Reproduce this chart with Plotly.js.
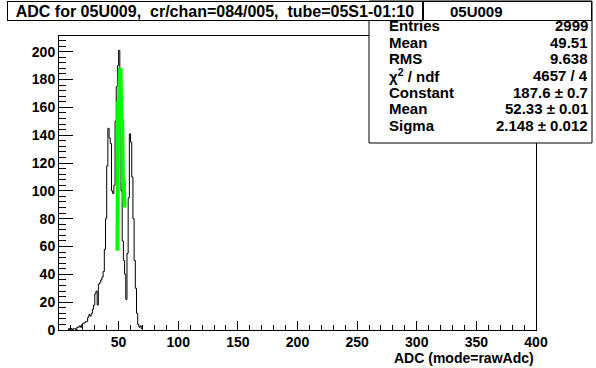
<!DOCTYPE html>
<html>
<head>
<meta charset="utf-8">
<script src="https://cdn.plot.ly/plotly-3.0.1.min.js"></script>
<style>html,body{margin:0;padding:0;background:#fff;}#chart{width:596px;height:368px;}</style>
</head>
<body>
<div id="chart"></div>
<script>
// ---- data ----
const binLowEdges = [8,9,10,11,12,13,14,15,16,17,18,19,20,21,22,23,24,25,26,27,28,29,30,31,32,33,34,35,36,37,38,39,40,41,42,43,44,45,46,47,48,49,50,51,52,53,54,55,56,57,58,59,60,61,62,63,64,65,66,67,68,69];
const binCounts   = [1,0,1,0,1,1,0,2,2,3,2,4,5,5,6,6,9,11,10,12,15,18,26,28,18,33,34,36,38,42,58,80,118,145,138,134,100,98,104,150,175,190,201,150,100,64,50,40,22,55,95,141,135,110,80,50,30,12,4,2,3,1];
const fitX = [49.0,49.0,49.6,49.6,50.3,50.3,51.0,51.0,51.6,51.6,52.3,52.3,53.0,53.0,53.6,53.6,54.3,54.3,55.0];
const fitY = [57,110,110,163,163,180,180,187,187,175,175,150,150,120,120,107,107,92,88];
const yTickVals = [0,20,40,60,80,100,120,140,160,180,200];
const xTickVals = [50,100,150,200,250,300,350,400];
const titleText = "ADC for 05U009,  cr/chan=084/005,  tube=05S1-01:10";
const xTitleText = "ADC (mode=rawAdc)";
const statsName = "05U009";
const statLabels = ["Entries","Mean","RMS","\u03c7<sup>2</sup> / ndf","Constant","Mean","Sigma"];
const statValues = ["2999","49.51","9.638","4657 / 4","187.6 \u00b1 0.7","52.33 \u00b1 0.01","2.148 \u00b1 0.012"];

// ---- build step outline ----
const hx = [binLowEdges[0]], hy = [0];
for (let i = 0; i < binLowEdges.length; i++) { hx.push(binLowEdges[i]); hy.push(binCounts[i]); }
const lastEdge = binLowEdges[binLowEdges.length-1] + 1;
hx.push(lastEdge); hy.push(binCounts[binCounts.length-1]);
hx.push(lastEdge); hy.push(0);

// pixel helpers (plot area 59..536 x 36..330)
const L = 59, R = 536, T = 36, B = 330, W = 596, H = 368;
const px = p => (p - L) / (R - L);
const py = p => (B - p) / (B - T);

const font = "Liberation Sans, Arial, Helvetica, sans-serif";
const NB = '\u00a0';

const traces = [
  {x: hx, y: hy, type: 'scatter', mode: 'lines', line: {shape: 'hv', color: '#000', width: 1}, hoverinfo: 'skip'},
  {x: fitX, y: fitY, type: 'scatter', mode: 'lines', line: {color: '#00ff00', width: 4}, hoverinfo: 'skip'}
];

const annotations = [];
const lineCenters = [25, 42.5, 59, 75.5, 92, 108.5, 125];
statLabels.forEach((t, i) => {
  annotations.push({xref:'paper', yref:'paper', x: px(387), y: py(lineCenters[i]), xanchor:'left', yanchor:'middle',
    text: '<b>'+t+'</b>', showarrow:false, font:{family:font, size:15, color:'#000'}});
  annotations.push({xref:'paper', yref:'paper', x: px(590), y: py(lineCenters[i]), xanchor:'right', yanchor:'middle',
    text: '<b>'+statValues[i]+'</b>', showarrow:false, font:{family:font, size:15, color:'#000'}});
});
// header cell with the histogram name (covers the top of the stats text)
annotations.push({xref:'paper', yref:'paper', x: px(423), y: py(1), xanchor:'left', yanchor:'top',
  text:'<b>'+statsName+'</b>'+NB.repeat(15), width:167, height:18, align:'center',
  bgcolor:'#fff', bordercolor:'#000', borderwidth:1, borderpad:0, showarrow:false,
  font:{family:font, size:15, color:'#000'}});
annotations.push({xref:'paper', yref:'paper', x: px(7), y: py(1), xanchor:'left', yanchor:'top',
  text:'<b>'+titleText+'</b>', width:414, height:18, bgcolor:'#fff', bordercolor:'#000', borderwidth:1, borderpad:0, showarrow:false,
  font:{family:font, size:16, color:'#000'}});
annotations.push({xref:'paper', yref:'paper', x: px(536), y: py(358), xanchor:'right', yanchor:'middle',
  text:'<b>'+xTitleText+'</b>', showarrow:false, font:{family:font, size:14, color:'#000'}});

const layout = {
  width: W, height: H,
  margin: {l: L, r: W - R, t: T, b: H - B, pad: 0},
  paper_bgcolor: '#fff', plot_bgcolor: '#fff',
  showlegend: false,
  xaxis: {range: [0, 400], showgrid: false, zeroline: false, showline: true, mirror: true, linecolor: '#000', linewidth: 1,
    ticks: 'inside', ticklen: 9, tickwidth: 1, tickcolor: '#000', tickmode: 'array', tickvals: xTickVals,
    ticktext: xTickVals.map(v => '<b>'+v+'</b>'), ticklabelstandoff: -1,
    tickfont: {family: font, size: 14, color: '#000'},
    minor: {dtick: 10, ticklen: 5, tickcolor: '#000', ticks: 'inside', showgrid: false}},
  yaxis: {range: [0, 211.3], showgrid: false, zeroline: false, showline: true, mirror: true, linecolor: '#000', linewidth: 1,
    ticks: 'inside', ticklen: 14, tickwidth: 1, tickcolor: '#000', tickmode: 'array', tickvals: yTickVals,
    ticktext: yTickVals.map(v => '<b>'+v+'</b>'),
    tickfont: {family: font, size: 14, color: '#000'},
    minor: {dtick: 4, ticklen: 7, tickcolor: '#000', ticks: 'inside', showgrid: false}},
  shapes: [
    {type:'rect', xref:'paper', yref:'paper', x0: px(369), x1: px(592), y0: py(143), y1: py(1),
     fillcolor:'#fff', line:{color:'#000', width:1}, layer:'above'}
  ],
  annotations: annotations
};

Plotly.newPlot('chart', traces, layout, {staticPlot: true, displayModeBar: false});
</script>
</body>
</html>
